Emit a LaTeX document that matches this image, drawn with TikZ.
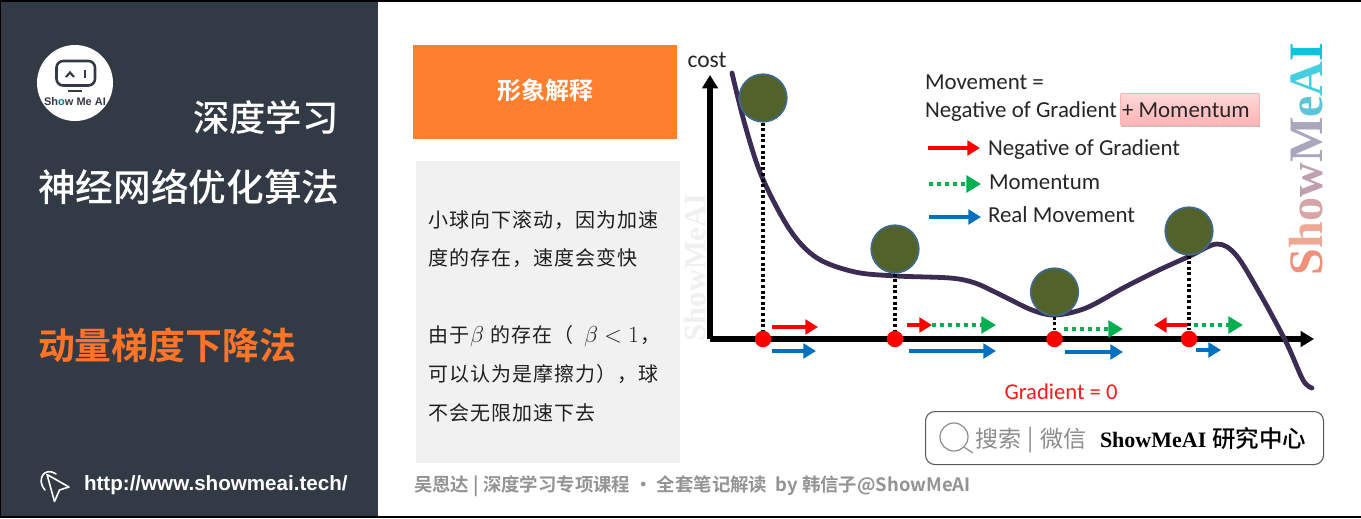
\documentclass[tikz,border=0pt]{standalone}
\usepackage{fontspec}
\usetikzlibrary{arrows.meta,calc}
\setmainfont{Carlito}
\newfontfamily\cjk{Noto Sans CJK SC}
\newfontfamily\cjkm{Noto Sans CJK SC Medium}
\newfontfamily\cjkb{Noto Sans CJK SC Bold}
\newfontfamily\cjkspaced[LetterSpace=5.5]{Noto Sans CJK SC}
\newfontfamily\serifb{Liberation Serif Bold}
\newfontfamily\sansb{Liberation Sans Bold}
\newcommand{\pxf}[1]{\fontsize{\dimexpr#1pt*3/4\relax}{\dimexpr#1pt*9/10\relax}\selectfont}
\definecolor{panel}{HTML}{323A45}
\definecolor{orangeA}{HTML}{FF7F2F}
\definecolor{titleor}{HTML}{FF7426}
\definecolor{boxgray}{HTML}{F1F1F1}
\definecolor{ballfill}{HTML}{53622B}
\definecolor{ballline}{HTML}{3F6A8C}
\definecolor{curveC}{HTML}{3B2C54}
\definecolor{redA}{HTML}{FF0000}
\definecolor{greenA}{HTML}{00B050}
\definecolor{blueA}{HTML}{0070C0}
\tikzset{
  x=0.75pt,y=-0.75pt,
  lbl/.style={inner sep=0pt,outer sep=0pt,anchor=base west},
  ctr/.style={inner sep=0pt,outer sep=0pt,anchor=base},
  ball/.style={circle,draw=ballline,line width=1.3pt,fill=ballfill,minimum size=47.5*0.75pt,inner sep=0pt},
  zero/.style={circle,fill=redA,minimum size=16.5*0.75pt,inner sep=0pt},
  drop/.style={line width=2.5pt,dash pattern=on 2.3pt off 1.9pt,black},
  axis/.style={line width=3.8pt,black,-{Triangle[length=10pt,width=11.5pt]},line join=miter},
  mv/.style={line width=3.1pt,-{Triangle[length=9.5pt,width=11pt]}},
  redmv/.style={mv,redA},
  bluemv/.style={mv,blueA},
  greenmv/.style={line width=3.3pt,greenA,dash pattern=on 3pt off 3pt,-{Triangle[length=11pt,width=12.5pt,sep=0pt]}},
  legend/.style={lbl,font=\pxf{22.9},text=black!85},
  bodytxt/.style={lbl,font=\cjkspaced\pxf{20},text=black!88},
  bodymath/.style={lbl,font=\pxf{22},text=black!88},
}
\begin{document}
\begin{tikzpicture}
\useasboundingbox (0,0) rectangle (1361,518);
\fill[white] (0,0) rectangle (1361,518);
% left panel
\fill[panel] (0,0) rectangle (378,518);
% frame
\draw[black,line width=1.5pt] (0,0.5) -- (1361,0.5);
\draw[black,line width=1pt] (0.5,0) -- (0.5,518);
\draw[black,line width=1.6pt] (0,516.8) -- (1361,516.8);
% logo
\node[circle,fill=white,minimum size=76*0.75pt,inner sep=0pt] (logo) at (75,83) {};
\draw[panel,line width=1.9pt,rounded corners=5pt] (56.5,61) rectangle (95,85.5);
\draw[panel,line width=1.6pt] (66,77) -- (70,72.5) -- (74,77);
\draw[panel,line width=1.6pt] (85,70) -- (85,78);
\draw[panel,line width=1.6pt] (68,91) -- (82,91);
\node[ctr,font=\sansb\pxf{11},text=panel] (logotxt) at (75,105) {Sh\textcolor{teal}{o}w Me AI};
% titles
\node[lbl,font=\cjkm\pxf{36.4},text=white] (t1) at (193,131) {深度学习};
\node[lbl,font=\cjkm\pxf{37.7},text=white] (t2) at (38,201) {神经网络优化算法};
\node[lbl,font=\cjkb\pxf{36.9},text=titleor] (t3) at (38,359) {动量梯度下降法};
% cursor icon
\draw[white,line width=1.2pt,line join=round] (47,474.5) -- (69,487) -- (59.5,490) -- (54.5,501.5) -- cycle;
\draw[white,line width=1.2pt,line cap=round] (45,490) .. controls (36,480) and (44,466) .. (56,474);
\node[lbl,font=\sansb\pxf{20.6},text=white] (url) at (84,490) {http://www.showmeai.tech/};
% orange header and grey box
\node[inner sep=0pt,fill=orangeA,minimum width=264*0.75pt,minimum height=94*0.75pt,anchor=north west] (head) at (413,45) {};
\node[ctr,font=\cjkb\pxf{24},text=white] (headt) at (545,99) {形象解释};
\node[inner sep=0pt,fill=boxgray,minimum width=264*0.75pt,minimum height=302*0.75pt,anchor=north west] (body) at (416,161) {};
\node[bodytxt] (b1) at (428,227) {小球向下滚动，因为加速};
\node[bodytxt] (b2) at (428,265) {度的存在，速度会变快};
\node[bodytxt] (b3) at (428,342) {由于};
\node[bodymath] (b3a) at (470,342) {$\beta$};
\node[bodytxt] (b3b) at (490,342) {的存在（};
\node[bodymath] (b3c) at (584,342) {$\beta<1$};
\node[bodytxt] (b3d) at (640,342) {，};
\node[bodytxt] (b4) at (428,381) {可以认为是摩擦力），球};
\node[bodytxt] (b5) at (428,420) {不会无限加速下去};
% footer
\node[lbl,font=\cjkb\pxf{18.4},text=black!42] (foot) at (414,491) {吴恩达 | 深度学习专项课程 · 全套笔记解读\ \ by 韩信子@ShowMeAI};
% left watermark
\node[lbl,rotate=90,font=\serifb\pxf{30.5},text=black!6] (wm1) at (705,341) {ShowMeAI};
% right watermark
\node[lbl,rotate=90,font=\serifb\pxf{48}] (wm2) at (1322,275) {\textcolor[HTML]{F0907A}{S}\textcolor[HTML]{EFA893}{h}\textcolor[HTML]{D8A5A5}{o}\textcolor[HTML]{BFA0AE}{w}\textcolor[HTML]{A9A6BE}{M}\textcolor[HTML]{5CC5D6}{e}\textcolor[HTML]{45D0E2}{A}\textcolor[HTML]{10C2DA}{I}};
% axes
\coordinate (orig) at (710,339);
\coordinate (ytop) at (710,75);
\coordinate (xend) at (1314,339);
\draw[axis] (orig) -- (ytop);
\draw[axis] (orig) -- (xend);
\node[ctr,font=\pxf{23.5},text=black!85] (cost) at (707,67) {cost};
% curve
\draw[curveC,line width=3.6pt,line cap=round] plot[smooth,tension=0.55] coordinates {(732,73) (745,125) (762,177) (790,230) (817,258) (855,272) (897,276) (950,278) (975,283) (1001,295) (1032,310) (1055,315) (1086,308) (1125,287) (1159,270) (1190,256) (1217,244) (1236,255) (1259,292) (1286,342) (1303,380) (1312,388)};
% red points
\node[zero] (z1) at (763,339) {};
\node[zero] (z2) at (895,339) {};
\node[zero] (z3) at (1054.5,339) {};
\node[zero] (z4) at (1189,339) {};
% balls
\node[ball] (b1c) at (763,98) {};
\node[ball] (b2c) at (895,249) {};
\node[ball] (b3c2) at (1054.5,292) {};
\node[ball] (b4c) at (1189,231) {};
% drops
\draw[drop] (b1c.south) -- (z1.north);
\draw[drop] (b2c.south) -- (z2.north);
\draw[drop] (b3c2.south) -- (z3.north);
\draw[drop] (b4c.south) -- (z4.north);
% movement arrows
\coordinate (r1a) at (772,327); \coordinate (r1b) at (818,327);
\coordinate (u1a) at (772,351); \coordinate (u1b) at (816,351);
\coordinate (r2a) at (907,325); \coordinate (r2b) at (932,325);
\coordinate (g2a) at (932,325); \coordinate (g2b) at (996,325);
\coordinate (u2a) at (909,351); \coordinate (u2b) at (996,351);
\coordinate (g3a) at (1064,329); \coordinate (g3b) at (1123,329);
\coordinate (u3a) at (1065,352); \coordinate (u3b) at (1123,352);
\coordinate (r4a) at (1187,325); \coordinate (r4b) at (1154,325);
\coordinate (g4a) at (1194,325); \coordinate (g4b) at (1243,325);
\coordinate (u4a) at (1196,350); \coordinate (u4b) at (1221,350);
\draw[redmv] (r1a) -- (r1b);
\draw[bluemv] (u1a) -- (u1b);
\draw[redmv] (r2a) -- (r2b);
\draw[greenmv] (g2a) -- (g2b);
\draw[bluemv] (u2a) -- (u2b);
\draw[greenmv] (g3a) -- (g3b);
\draw[bluemv] (u3a) -- (u3b);
\draw[redmv] (r4a) -- (r4b);
\draw[greenmv] (g4a) -- (g4b);
\draw[bluemv] (u4a) -- (u4b);
% legend
\node[legend] (m1) at (925,89) {Movement =};
\fill[black!25] (1121,94) rectangle (1260,126.5);
\node[inner sep=0pt,draw=red!30,line width=0.6pt,top color=red!15,bottom color=red!30,rounded corners=0.8pt,minimum width=139*0.75pt,minimum height=32*0.75pt,anchor=north west] (pink) at (1120,93) {};
\node[legend] (m2) at (925,117) {Negative of Gradient};
\node[legend] (m3) at (1122,117) {+ Momentum};
\coordinate (lra) at (928,148); \coordinate (lrb) at (980,148);
\coordinate (lga) at (929,184); \coordinate (lgb) at (981,184);
\coordinate (lua) at (929,217); \coordinate (lub) at (981,217);
\draw[redmv] (lra) -- (lrb);
\draw[greenmv] (lga) -- (lgb);
\draw[bluemv] (lua) -- (lub);
\node[legend] (l1) at (988,155) {Negative of Gradient};
\node[legend] (l2) at (989,189) {Momentum};
\node[legend] (l3) at (988,222) {Real Movement};
\node[ctr,font=\pxf{22.6},text=red!90] (grad) at (1061,399) {Gradient = 0};
% search box
\node[draw=black!65,line width=0.8pt,rounded corners=7pt,fill=white,minimum width=398*0.75pt,minimum height=53*0.75pt,anchor=north west,inner sep=0pt] (search) at (925,411) {};
\node[circle,draw=black!45,line width=0.9pt,minimum size=28*0.75pt,inner sep=0pt] (glass) at (954,437) {};
\coordinate (glassend) at (973,453);
\draw[black!45,line width=0.9pt] (glass.south east) -- (glassend);
\node[lbl,font=\cjk\pxf{23},text=black!45] (s1) at (975,447) {搜索};
\node[lbl,font=\cjk\pxf{23},text=black!45] (s2) at (1027,446) {|};
\node[lbl,font=\cjk\pxf{23},text=black!45] (s3) at (1040,447) {微信};
\node[lbl,font=\serifb\pxf{22},text=black] (s4) at (1100,447) {ShowMeAI};
\node[lbl,font=\cjkm\pxf{23.5},text=black] (s5) at (1212,447) {研究中心};
\end{tikzpicture}
\end{document}
